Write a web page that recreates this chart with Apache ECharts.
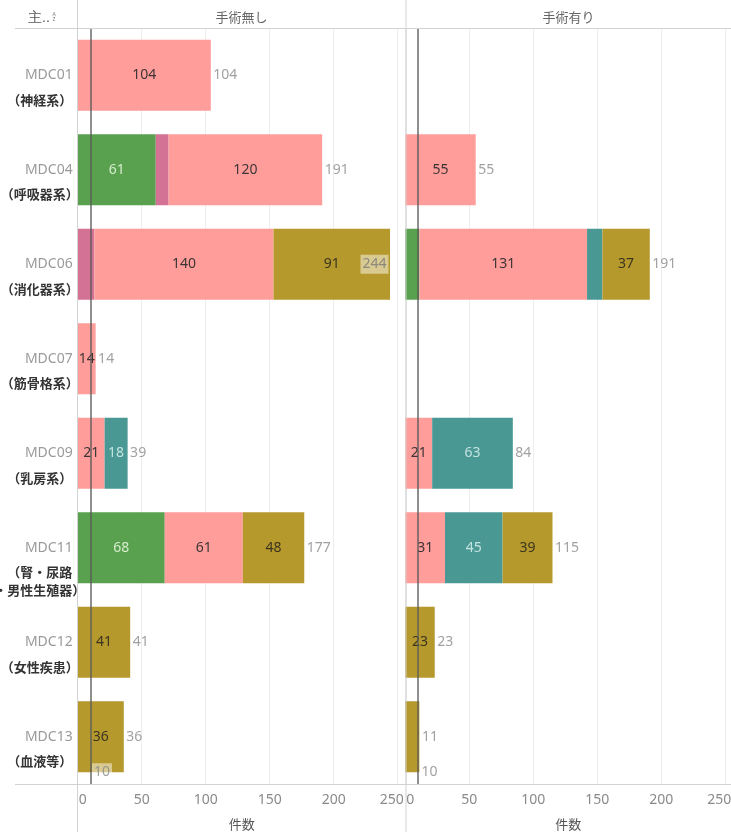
<!DOCTYPE html>
<html><head><meta charset="utf-8">
<script src="https://cdn.jsdelivr.net/npm/echarts@6/dist/echarts.min.js"></script>
<style>html,body{margin:0;padding:0;background:#fff}#c{width:731px;height:832px}</style>
</head><body><div id="c"></div><script>
// ---- data ----
const categories = ['MDC01','MDC04','MDC06','MDC07','MDC09','MDC11','MDC12','MDC13'];
const categoryNotes = ['（神経系）','（呼吸器系）','（消化器系）','（筋骨格系）','（乳房系）','（腎・尿路\n・男性生殖器）','（女性疾患）','（血液等）'];
const panelTitles = ['手術無し','手術有り'];
const axisTitle = '件数';
const headerTitle = '主..';
const xTickValues = [0,50,100,150,200,250];
const refLineValue = 10;
const groupNames = ['区分1','区分2','区分3','区分4','区分5'];

// 手術無し
const noOpGreen = [0,61,0,0,0,68,0,0];
const noOpMauve = [0,10,13,0,0,0,0,0];
const noOpPink  = [104,120,140,14,21,61,0,0];
const noOpTeal  = [0,0,0,0,18,0,0,0];
const noOpOlive = [0,0,91,0,0,48,41,36];
// 手術有り
const opGreen = [0,0,11,0,0,0,0,0];
const opMauve = [0,0,0,0,0,0,0,0];
const opPink  = [0,55,131,0,21,31,0,0];
const opTeal  = [0,0,12,0,63,45,0,0];
const opOlive = [0,0,37,0,0,39,23,11];

// ---- styles ----
const F = "'Noto Sans','Noto Sans CJK JP',sans-serif";
const colors = ['#59A14F','#D37295','#FF9D9A','#499894','#B6992D'];
const labelColors = ['#d6ecce','#ffffff','#3d3535','#c3e3e0','#3b3520'];
const panelsData = [
  [noOpGreen,noOpMauve,noOpPink,noOpTeal,noOpOlive],
  [opGreen,opMauve,opPink,opTeal,opOlive]
];
const grids = [
  {left:77.7, width:328.3, top:28, height:756, containLabel:false, outerBoundsMode:'none'},
  {left:405.3, width:325.7, top:28, height:756, containLabel:false, outerBoundsMode:'none'}
];
const PXU = 1.28;

const series = [];
panelsData.forEach((groups, gi) => {
  groups.forEach((vals, k) => {
    series.push({
      type:'bar', name:groupNames[k], stack:'p'+gi, xAxisIndex:gi, yAxisIndex:gi,
      barWidth:71, itemStyle:{color:colors[k]},
      data: vals.map(v => v > 0 ? v : null),
      label:{show:true, position:'inside', color:labelColors[k], fontSize:14, fontFamily:F,
        formatter: p => (p.value >= 14 ? String(p.value) : '')}
    });
  });
  const totals = categories.map((c, i) => groups.reduce((s, arr) => s + arr[i], 0));
  const gridMax = grids[gi].width / PXU;
  const pts = [];
  totals.forEach((t, i) => {
    if (t <= 0) return;
    const item = {value:[t, i]};
    if (t + 22 > gridMax) {
      item.label = {position:'left', distance:1, backgroundColor:'rgba(255,255,255,0.6)', padding:[3,2,2,2], color:'#777'};
    }
    pts.push(item);
  });
  series.push({
    type:'scatter', name:'合計', xAxisIndex:gi, yAxisIndex:gi, symbolSize:1,
    itemStyle:{color:'rgba(0,0,0,0)'}, data:pts, z:5,
    label:{show:true, position:'right', distance:2, color:'#8a8a8a', fontSize:14, fontFamily:F,
      formatter: p => String(p.value[0])},
    markLine:{silent:true, symbol:'none', data:[{xAxis:refLineValue}],
      lineStyle:{color:'#5a5a5a', width:1.5, type:'solid', opacity:0.9}, label:{show:false}}
  });
  series.push({
    type:'scatter', name:'参照', xAxisIndex:gi, yAxisIndex:gi, symbolSize:1,
    itemStyle:{color:'rgba(0,0,0,0)'}, data:[[refLineValue, categories.length - 1]], z:6,
    label:{show:true, position:'right', distance:1, offset:[0,35], color:'#8a8a8a', fontSize:14, fontFamily:F,
      backgroundColor: gi === 0 ? 'rgba(255,255,255,0.6)' : 'transparent', padding:[2,2,1,2],
      formatter: () => String(refLineValue)}
  });
});

const xAxes = grids.map((g, gi) => ({
  gridIndex:gi, type:'value', min:0, max:g.width / PXU, interval:50,
  axisLine:{show:false}, axisTick:{show:false},
  splitLine:{show:true, lineStyle:{color:'#ededed', width:1}},
  axisLabel:{showMaxLabel:false, color:'#8a8a8a', fontSize:14, fontFamily:F, margin:9,
    formatter: v => v === 0 ? '{a|0}' : (v === 250 ? '{b|250}' : (xTickValues.includes(v) ? String(v) : '')),
    rich:{a:{padding:[0,0,0,10], fontSize:14, color:'#8a8a8a', fontFamily:F},
          b:{padding:[0,12,0,0], fontSize:14, color:'#8a8a8a', fontFamily:F}}},
  name:axisTitle, nameLocation:'middle', nameGap:35,
  nameTextStyle:{color:'#555', fontSize:13, fontFamily:F}
}));

const yAxes = grids.map((g, gi) => ({
  gridIndex:gi, type:'category', data:categories, inverse:true,
  axisLine:{show:false}, axisTick:{show:false}, splitLine:{show:false},
  axisLabel: gi === 0 ? {
    show:true, margin:5, align:'right',
    formatter: (v, i) => {
      const notes = categoryNotes[i].split('\n');
      const sp = notes.length > 1 ? '{s3| }' : '{s2| }';
      return sp + '\n{m|' + v + '}\n' + notes.map(n => '{j|' + n + '}').join('\n');
    },
    rich:{
      s2:{width:66, lineHeight:18, fontSize:10, align:'right'},
      s3:{width:66, lineHeight:36, fontSize:10, align:'right'},
      m:{width:66, lineHeight:34, align:'right', color:'#9a9a9a', fontSize:14, fontFamily:F},
      j:{width:66, lineHeight:18, align:'center', color:'#333', fontWeight:'bold', fontSize:13, fontFamily:F}
    }
  } : {show:false}
}));

const lineStyle = {stroke:'#d2d2d2', lineWidth:1};
const graphic = [
  {type:'line', shape:{x1:77.5, y1:0, x2:77.5, y2:832}, style:lineStyle, z:10},
  {type:'line', shape:{x1:406, y1:0, x2:406, y2:832}, style:lineStyle, z:10},
  {type:'line', shape:{x1:15, y1:28.5, x2:731, y2:28.5}, style:lineStyle, z:10},
  {type:'line', shape:{x1:15, y1:784.5, x2:731, y2:784.5}, style:lineStyle, z:10},
  {type:'text', x:28, y:18, style:{text:headerTitle, fontSize:14, fill:'#555', font:'14px ' + F, textVerticalAlign:'middle'}},
  {type:'text', x:54, y:15, style:{text:'A', font:'5px ' + F, fill:'#777', textAlign:'center', textVerticalAlign:'middle'}},
  {type:'text', x:54, y:20, style:{text:'Z', font:'5px ' + F, fill:'#777', textAlign:'center', textVerticalAlign:'middle'}},
  {type:'text', x:241.5, y:18, style:{text:panelTitles[0], font:'13px ' + F, fill:'#666', textAlign:'center', textVerticalAlign:'middle'}},
  {type:'text', x:568.5, y:18, style:{text:panelTitles[1], font:'13px ' + F, fill:'#666', textAlign:'center', textVerticalAlign:'middle'}}
];

const chart = echarts.init(document.getElementById('c'), null, {renderer:'canvas'});
chart.setOption({
  animation:false, backgroundColor:'#fff',
  grid:grids, xAxis:xAxes, yAxis:yAxes, series:series, graphic:graphic
});
</script></body></html>
